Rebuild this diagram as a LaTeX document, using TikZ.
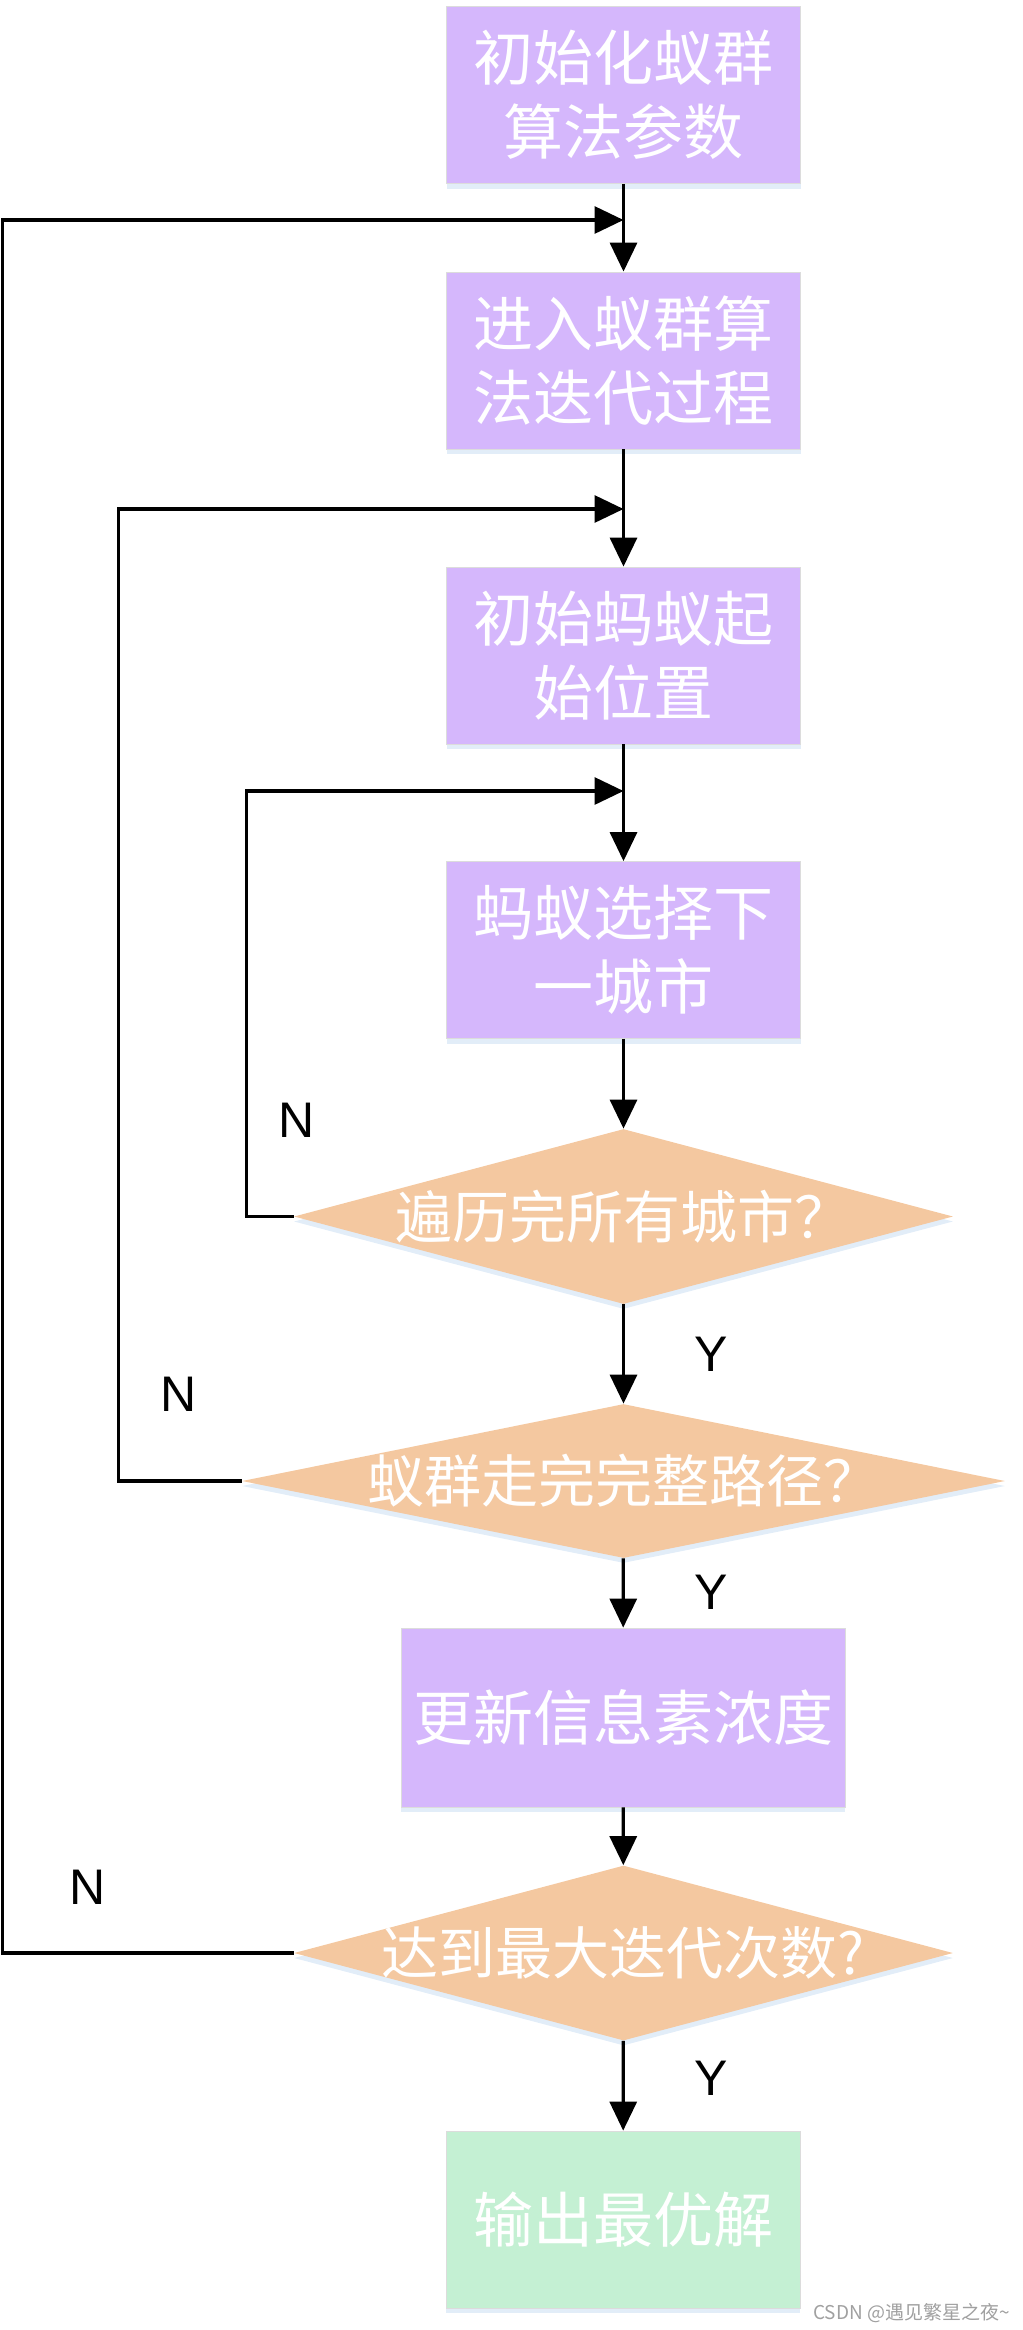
\documentclass[tikz,border=0pt]{standalone}
\usepackage{fontspec}
\usepackage{tikz}
\usetikzlibrary{arrows.meta,shapes.geometric,shadows}
\newfontfamily\cjk{Noto Sans CJK SC}
\newfontfamily\arial{Liberation Sans}
\definecolor{procfill}{HTML}{D5B7FC}
\definecolor{decfill}{HTML}{F4C8A0}
\definecolor{endfill}{HTML}{C4F0D3}
\definecolor{shade}{HTML}{E2EDF8}
\definecolor{edge}{HTML}{DCDCDC}
\definecolor{wm}{HTML}{A0A0A0}
\tikzset{
  sh/.style={drop shadow={shadow xshift=0pt, shadow yshift=-2.5pt, fill=shade, opacity=1}},
  proc/.style={rectangle, fill=procfill, draw=edge, line width=0.4pt, sh,
    minimum width=177pt, minimum height=88.5pt, inner sep=0pt, align=center,
    text=white, font=\cjk\fontsize{30}{37}\selectfont},
  outbox/.style={proc, fill=endfill},
  dec/.style={diamond, fill=decfill, sh, minimum width=329.5pt,
    minimum height=87.5pt, inner sep=0pt},
  dectxt/.style={text=white, font=\cjk\fontsize{28.5}{34}\selectfont, inner sep=0pt},
  flow/.style={draw=black, line width=1.6pt, -{Triangle[length=14.5pt, width=13.5pt]}},
  yn/.style={text=black, font=\arial\fontsize{25}{25}\selectfont},
  wmark/.style={text=wm, font=\cjk\fontsize{9.5}{10}\selectfont, inner sep=0pt},
}
\begin{document}
\begin{tikzpicture}[x=0.5pt,y=-0.5pt]
  \useasboundingbox (0,0) rectangle (1023,2330);
  % main chain
  \node[proc] (init) at (623.5,95) {初始化蚁群\\算法参数};
  \node[proc] (iter) at (623.5,360.5) {进入蚁群算\\法迭代过程};
  \node[proc] (start) at (623.5,655.5) {初始蚂蚁起\\始位置};
  \node[proc] (choose) at (623.5,950) {蚂蚁选择下\\一城市};
  \node[dec,label={[dectxt]center:遍历完所有城市？}] (cities) at (623.5,1216.5) {};
  \node[dec,minimum width=381.5pt,minimum height=77pt,
    label={[dectxt]center:蚁群走完完整路径？}] (paths) at (623.5,1481) {};
  \node[proc,minimum width=222pt,minimum height=89.5pt] (update) at (623,1717.5) {更新信息素浓度};
  \node[dec,label={[dectxt]center:达到最大迭代次数?}] (maxit) at (623.5,1953) {};
  \node[outbox] (output) at (623,2219.5) {输出最优解};
  % loop entry points
  \coordinate (j1) at (623.5,220);
  \coordinate (j2) at (623.5,509);
  \coordinate (j3) at (623.5,791);
  \foreach \a/\b in {init/iter,iter/start,start/choose,choose/cities,
    cities/paths,paths/update,update/maxit,maxit/output}
    \draw[flow] (\a) -- (\b);
  % N branches
  \draw[flow] (maxit.west) -- ++(-291,0) |- (j1);
  \draw[flow] (paths.west) -- ++(-123,0) |- (j2);
  \draw[flow] (cities.west) -- ++(-47,0) |- (j3);
  \foreach \p in {(297,1120),(179,1394),(88,1887)}
    \node[yn] at \p {N};
  \foreach \p in {(711,1354),(711,1592),(711,2078)}
    \node[yn] at \p {Y};
  \node[wmark,anchor=east] (wmk) at (1010,2313) {CSDN @遇见繁星之夜\textasciitilde};
\end{tikzpicture}
\end{document}
